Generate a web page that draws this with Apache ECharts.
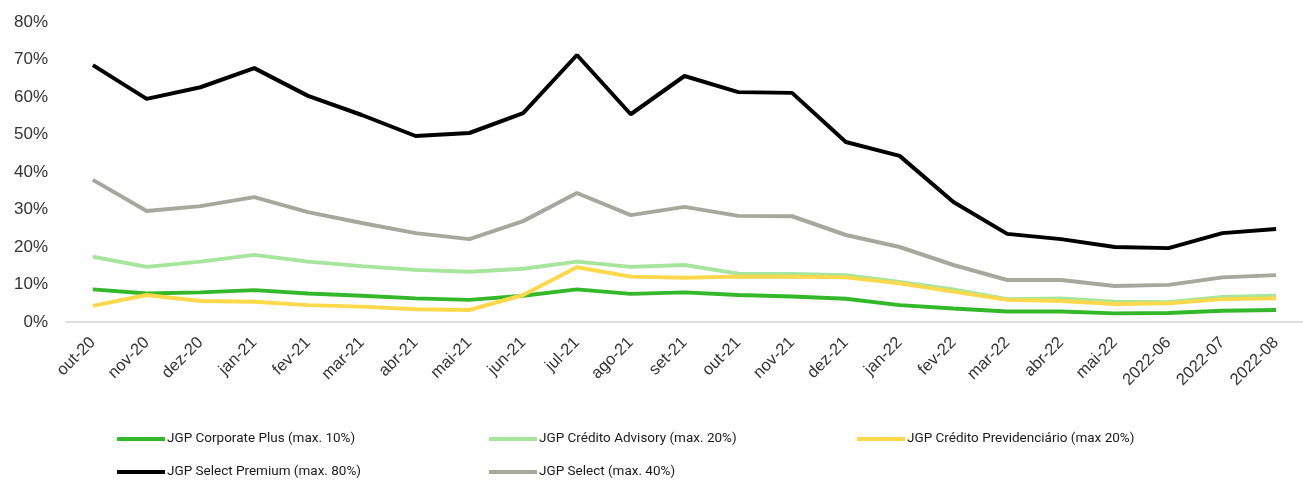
<!DOCTYPE html>
<html>
<head>
<meta charset="utf-8">
<script src="https://cdn.jsdelivr.net/npm/echarts@6/dist/echarts.min.js"></script>
<style>html,body{margin:0;padding:0;background:#fff}#c{width:1303px;height:481px}</style>
</head>
<body>
<div id="c"></div>
<script>
const categories = ['out-20','nov-20','dez-20','jan-21','fev-21','mar-21','abr-21','mai-21','jun-21','jul-21','ago-21','set-21','out-21','nov-21','dez-21','jan-22','fev-22','mar-22','abr-22','mai-22','2022-06','2022-07','2022-08'];
const yTicks = [0,10,20,30,40,50,60,70,80];
const corporatePlus = [8.7,7.6,7.9,8.5,7.6,7.0,6.3,5.9,7.0,8.7,7.5,7.9,7.2,6.8,6.2,4.5,3.6,2.8,2.8,2.3,2.4,3.0,3.2];
const creditoAdvisory = [17.4,14.7,16.1,17.9,16.1,14.9,13.9,13.4,14.2,16.1,14.7,15.2,12.9,12.8,12.5,10.7,8.7,6.1,6.3,5.4,5.3,6.7,7.0];
const creditoPrev = [4.3,7.2,5.6,5.4,4.5,4.1,3.4,3.2,7.2,14.6,12.1,11.8,12.1,12.1,11.9,10.3,8.1,5.9,5.6,4.8,5.0,6.1,6.3];
const selectPremium = [68.5,59.5,62.6,67.7,60.3,55.2,49.6,50.4,55.7,71.2,55.4,65.6,61.3,61.1,48.0,44.3,32.0,23.5,22.1,20.0,19.7,23.7,24.8];
const selectFund = [37.9,29.6,30.9,33.3,29.3,26.4,23.7,22.1,26.9,34.4,28.5,30.7,28.3,28.2,23.2,20.0,15.2,11.2,11.2,9.6,9.9,11.9,12.5];
const seriesNames = ['JGP Corporate Plus (max. 10%)','JGP Crédito Advisory (max. 20%)','JGP Crédito Previdenciário (max 20%)','JGP Select Premium (max. 80%)','JGP Select (max. 40%)'];
const seriesData = [corporatePlus, creditoAdvisory, creditoPrev, selectPremium, selectFund];
const colors = ['#33b82a','#a6e69c','#fdd84a','#000000','#a6a89b'];

const legendPos = [[112,427],[484,427],[852,427],[112,460],[484,460]];
const chart = echarts.init(document.getElementById('c'), null, {renderer:'canvas'});
chart.setOption({
  animation:false,
  grid:{left:66, right:-6, top:22, bottom:159},
  xAxis:{type:'category', data:categories, boundaryGap:true,
    axisLine:{lineStyle:{color:'#d4d4d4', width:1.5}}, axisTick:{show:false},
    axisLabel:{rotate:45, margin:18, interval:0, color:'#333', fontSize:16.5, fontFamily:'Liberation Sans, Arial, sans-serif'}},
  yAxis:{type:'value', min:0, max:80, interval:10,
    axisLine:{show:false}, axisTick:{show:false}, splitLine:{show:false},
    axisLabel:{margin:18, color:'#333', fontSize:17, fontFamily:'Liberation Sans, Arial, sans-serif', formatter:v=>v+'%'}},
  legend: seriesNames.map((n,i)=>({data:[n], left:legendPos[i][0], top:legendPos[i][1], icon:'rect', itemWidth:48, itemHeight:4, itemGap:0,
    textStyle:{color:'#1a1a1a', fontSize:13.5, fontFamily:'Roboto, Liberation Sans, sans-serif', padding:[0,0,0,-3]}})),
  series: seriesNames.map((n,i)=>({name:n, type:'line', data:seriesData[i], symbol:'none', smooth:false,
    lineStyle:{color:colors[i], width:4}, itemStyle:{color:colors[i]}}))
});
</script>
</body>
</html>
